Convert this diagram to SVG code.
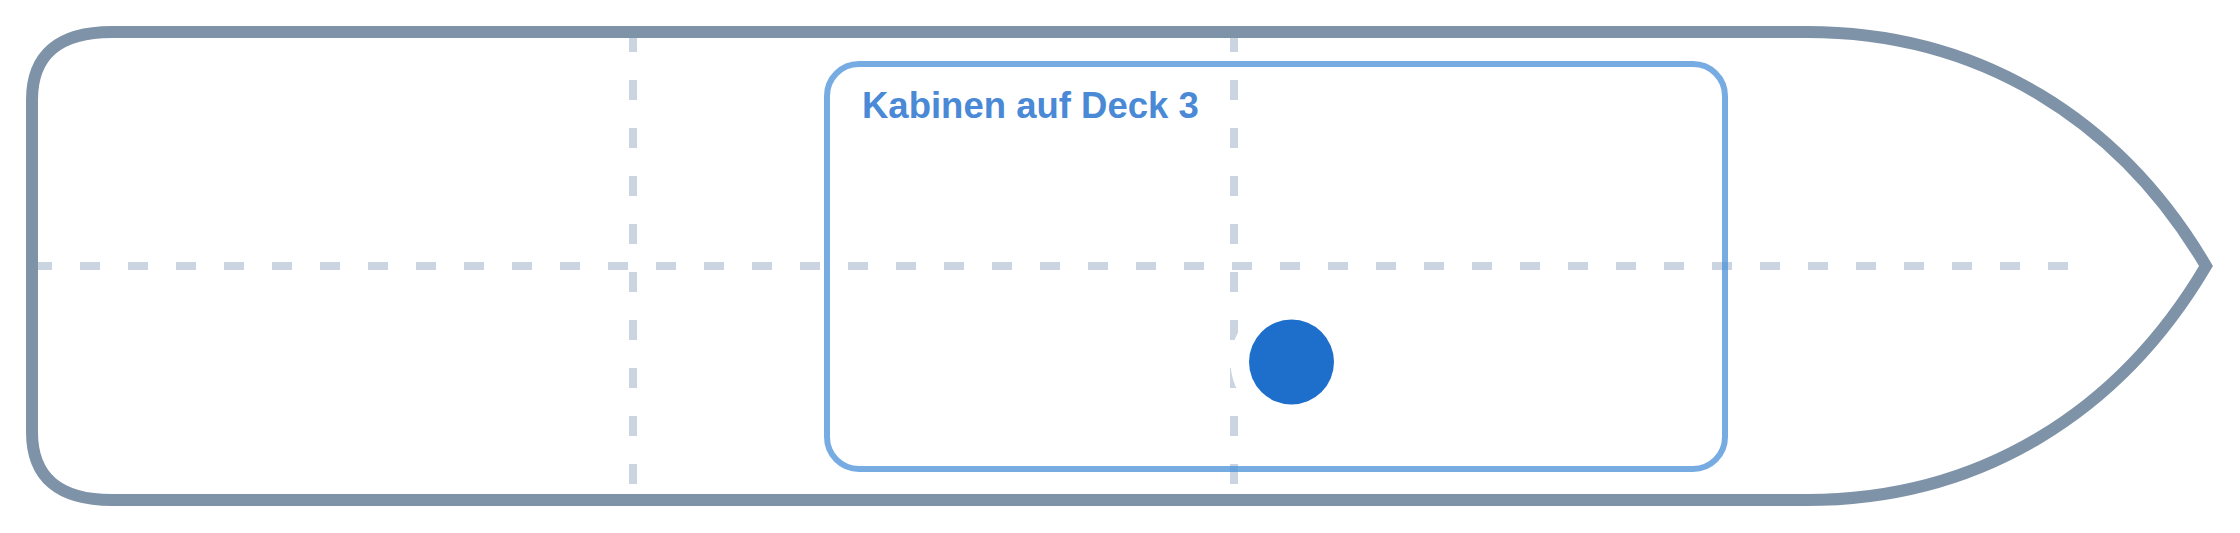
<svg xmlns="http://www.w3.org/2000/svg" width="2240" height="533" viewBox="0 0 2240 533">
  <style>
    .grid { stroke: #cbd5e1; stroke-width: 8; stroke-dasharray: 20 28; fill: none; }
    .hull { fill: none; stroke: #7f93a8; stroke-width: 12; stroke-linejoin: miter; stroke-miterlimit: 10; }
    .zone { fill: none; stroke: #4a90d9; stroke-opacity: 0.75; stroke-width: 6; }
    .zone-label { font-family: "Liberation Sans", Arial, Helvetica, sans-serif; font-weight: bold; font-size: 36.5px; fill: #4a89d6; }
    .marker-halo { fill: #ffffff; }
    .marker-dot { fill: #1e6fcc; }
  </style>
  <rect x="0" y="0" width="2240" height="533" fill="#ffffff"/>
  <g id="grid">
    <line class="grid" x1="32" y1="266" x2="2070" y2="266"/>
    <line class="grid" x1="633" y1="32" x2="633" y2="500"/>
    <line class="grid" x1="1234" y1="32" x2="1234" y2="500"/>
  </g>
  <g id="hull">
    <path class="hull" d="M 32 100 Q 32 32 112 32 H 1807 C 1980 32 2120 120 2206 266 C 2120 412 1980 500 1807 500 H 112 Q 32 500 32 432 Z"/>
  </g>
  <g id="zone-deck3">
    <rect class="zone" x="827" y="64" width="898" height="405" rx="32" ry="32"/>
    <text class="zone-label" x="862" y="118">Kabinen auf Deck 3</text>
  </g>
  <g id="position-marker">
    <circle class="marker-halo" cx="1291.5" cy="362" r="61"/>
    <circle class="marker-dot" cx="1291.5" cy="362" r="42.5"/>
  </g>
</svg>
